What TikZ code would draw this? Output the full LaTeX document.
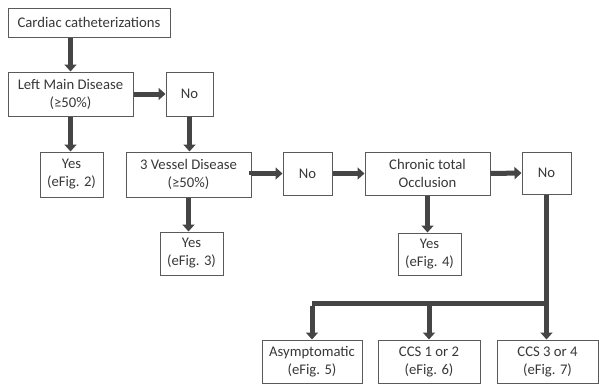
\documentclass[tikz,border=0pt]{standalone}
\usepackage{fontspec}
\setmainfont{Carlito}
\usetikzlibrary{arrows.meta,positioning}
\definecolor{boxline}{HTML}{5A5A5A}
\definecolor{arrowgray}{HTML}{454545}
\tikzset{step box/.style={rectangle,draw=boxline,line width=1pt,fill=white,align=center,inner sep=1pt,
            font=\fontsize{14.7}{18}\selectfont,text=black!78},
         flow arrow/.style={draw=arrowgray,line width=5pt,-{Triangle[width=12pt,length=7pt]}},
         flow line/.style={draw=arrowgray,line width=5pt},
}
\begin{document}
\begin{tikzpicture}[x=1pt,y=-1pt]
\useasboundingbox (0,0) rectangle (599,384);
\node[step box,minimum width=162pt,minimum height=29pt] (cath) at (89,22.5) {Cardiac catheterizations};
\node[step box,minimum width=125pt,minimum height=44pt] (lmd) at (70.5,94) {Left Main Disease\\(≥50\%)};
\node[step box,minimum width=47pt,minimum height=44pt] (no1) at (189.5,94) {No};
\node[step box,minimum width=63pt,minimum height=45pt] (yes2) at (71.5,174.5) {Yes\\(eFig. 2)};
\node[step box,minimum width=125pt,minimum height=45pt] (vd3) at (188.5,174.5) {3 Vessel Disease\\(≥50\%)};
\node[step box,minimum width=49pt,minimum height=43pt] (no2) at (307.5,173.5) {No};
\node[step box,minimum width=125pt,minimum height=43pt] (cto) at (427.5,173.5) {Chronic total\\Occlusion};
\node[step box,minimum width=49pt,minimum height=42pt] (no3) at (546.5,173) {No};
\node[step box,minimum width=63pt,minimum height=43pt] (yes3) at (191.5,253.5) {Yes\\(eFig. 3)};
\node[step box,minimum width=63pt,minimum height=42pt] (yes4) at (429.5,254) {Yes\\(eFig. 4)};
\node[step box,minimum width=100pt,minimum height=43pt] (asym) at (312,361.5) {Asymptomatic\\(eFig. 5)};
\node[step box,minimum width=102pt,minimum height=43pt] (ccs12) at (429,361.5) {CCS 1 or 2\\(eFig. 6)};
\node[step box,minimum width=101pt,minimum height=43pt] (ccs34) at (547.5,361.5) {CCS 3 or 4\\(eFig. 7)};
% down the left column
\draw[flow arrow] (cath.south -| lmd.north) -- (lmd.north);
\draw[flow arrow] (lmd.south) -- (lmd.south |- yes2.north);
\draw[flow arrow] (lmd.east) -- (no1.west);
\draw[flow arrow] (no1.south) -- (no1.south |- vd3.north);
\draw[flow arrow] (vd3.south) -- (vd3.south |- yes3.north);
% along the middle row
\draw[flow arrow] (vd3.east) -- (vd3.east |- no2.west) -- (no2.west);
\draw[flow arrow] (no2.east) -- (cto.west);
\draw[flow arrow] (cto.east) -- (no3.west);
\draw[flow arrow] (cto.south) -- (cto.south |- yes4.north);
% split into symptom classes
\coordinate (split) at (546.5,303);
\draw[flow line] (no3.south) -- (split) -- (split -| asym.north);
\draw[flow arrow] ([yshift=-2.5pt]split -| asym.north) -- (asym.north);
\draw[flow arrow] (split -| ccs12.north) -- (ccs12.north);
\draw[flow arrow] (split) -- (split |- ccs34.north);
\end{tikzpicture}
\end{document}
